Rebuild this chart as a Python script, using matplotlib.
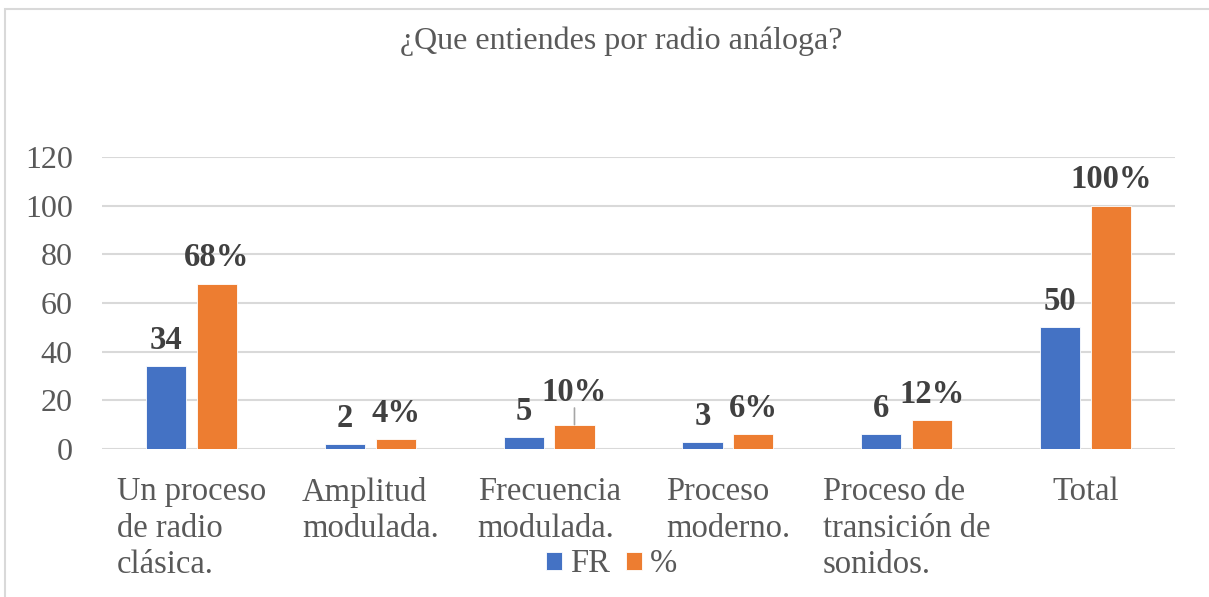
import matplotlib.pyplot as plt
from matplotlib.patches import Rectangle
import numpy as np

categories = ["Un proceso\nde radio\nclásica.", "Amplitud\nmodulada.", "Frecuencia\nmodulada.",
              "Proceso\nmoderno.", "Proceso de\ntransición de\nsonidos.", "Total"]
fr = [34, 2, 5, 3, 6, 50]
pct = [68, 4, 10, 6, 12, 100]
fr_labels = ["34", "2", "5", "3", "6", "50"]
pct_labels = ["68%", "4%", "10%", "6%", "12%", "100%"]
title = "¿Que entiendes por radio análoga?"

BLUE = "#4472C4"
ORANGE = "#ED7D31"
GRAY = "#595959"
LABEL = "#404040"

plt.rcParams['font.family'] = ['Liberation Serif', 'DejaVu Serif']

W, H = 1209, 597
fig = plt.figure(figsize=(W / 100, H / 100), dpi=100)

# chart border (cut off at right and bottom like the screenshot)
fig.patches.append(Rectangle((5 / W, -0.1), 1.2, 1 - 9 / H + 0.1, transform=fig.transFigure,
                             fill=False, edgecolor="#D9D9D9", linewidth=1.5))

left, right, top, bottom = 102, 1175, 157, 449
ax = fig.add_axes([left / W, 1 - bottom / H, (right - left) / W, (bottom - top) / H])

x = np.arange(len(categories))
bw = 0.225
off = 0.142
b1 = ax.bar(x - off, fr, bw, color=BLUE, edgecolor="white", linewidth=0.6, label="FR", zorder=3)
b2 = ax.bar(x + off, pct, bw, color=ORANGE, edgecolor="white", linewidth=0.6, label="%", zorder=3)

ax.set_xlim(-0.5, 5.5)
ax.set_ylim(0, 120)
ax.set_yticks(range(0, 121, 20))
ax.yaxis.grid(True, color="#D9D9D9", linewidth=1.5, zorder=0)
for s in ax.spines.values():
    s.set_visible(False)
ax.tick_params(axis="both", length=0, colors=GRAY)
ax.tick_params(axis="y", labelsize=23, pad=21)
ax.set_xticks(x)
ax.set_xticklabels(categories, fontsize=23.5, multialignment="left", linespacing=1.25)
ax.tick_params(axis="x", pad=20)

for bar, t in zip(b1, fr_labels):
    ax.annotate(t, (bar.get_x() + bar.get_width() / 2, bar.get_height()), xytext=(0, 18.5),
                textcoords="offset points", ha="center", va="center",
                fontsize=23.5, fontweight="bold", color=LABEL)
for bar, t in zip(b2, pct_labels):
    dy = 23 if t == "10%" else 18.5
    cx = bar.get_x() + bar.get_width() / 2
    ax.annotate(t, (cx, bar.get_height()), xytext=(0, dy),
                textcoords="offset points", ha="center", va="center",
                fontsize=23.5, fontweight="bold", color=LABEL)
    if t == "10%":
        # leader line from the moved label down to the bar
        ax.annotate("", (cx, bar.get_height()), xytext=(0, 12), textcoords="offset points",
                    arrowprops=dict(arrowstyle="-", color="#A6A6A6", lw=1.2, shrinkA=0, shrinkB=0))

fig.text(621 / W, 1 - 41 / H, title, ha="center", va="center", fontsize=23, color=GRAY)

fig.legend(handles=[b1, b2], labels=["FR", "%"], loc="center", bbox_to_anchor=(612 / W, 1 - 564 / H),
           ncol=2, frameon=False, fontsize=23.5, handlelength=0.48, handleheight=0.48,
           handletextpad=0.25, columnspacing=0.5, labelcolor=GRAY)

fig.savefig("out.png", dpi=100)
